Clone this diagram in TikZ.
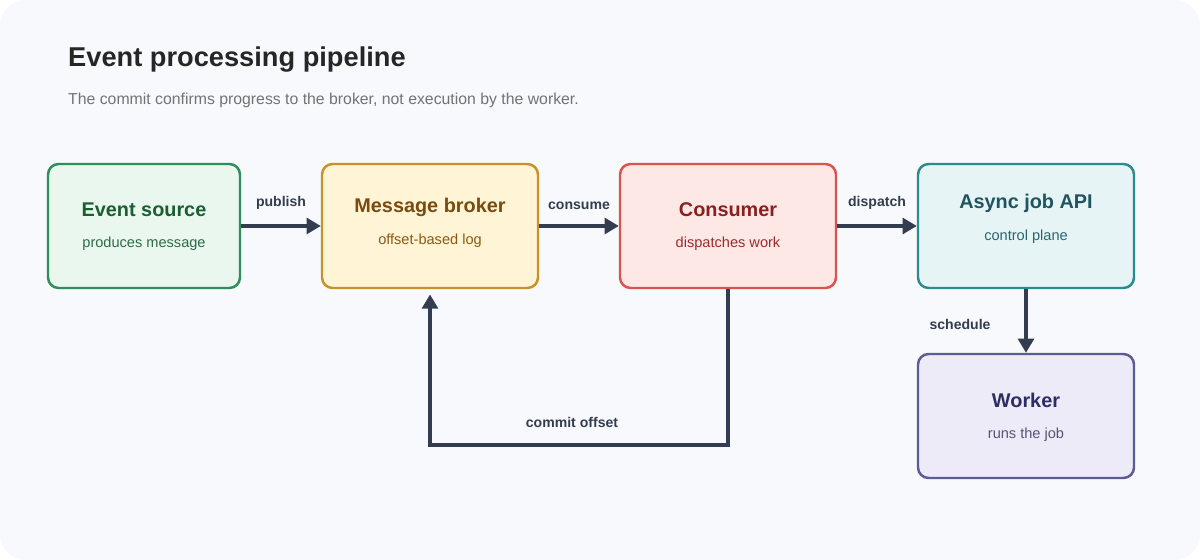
\documentclass[tikz,border=0pt]{standalone}
\usepackage{fontspec}
\setmainfont{Liberation Sans}
\usetikzlibrary{arrows.meta}
\definecolor{bg}{HTML}{F7F9FC}
\definecolor{ink}{HTML}{343D50}
\definecolor{gA}{HTML}{2F8F5B}\definecolor{gF}{HTML}{E9F7EE}\definecolor{gT}{HTML}{1B5E32}\definecolor{gS}{HTML}{2F6B45}
\definecolor{yA}{HTML}{C8922A}\definecolor{yF}{HTML}{FFF4D6}\definecolor{yT}{HTML}{7A4A0E}\definecolor{yS}{HTML}{8A5A12}
\definecolor{rA}{HTML}{D9534F}\definecolor{rF}{HTML}{FDE8E6}\definecolor{rT}{HTML}{8B1E1E}\definecolor{rS}{HTML}{9B2C2C}
\definecolor{cA}{HTML}{2A8C8C}\definecolor{cF}{HTML}{E6F4F6}\definecolor{cT}{HTML}{1E5560}\definecolor{cS}{HTML}{2A6670}
\definecolor{pA}{HTML}{5C5B94}\definecolor{pF}{HTML}{ECEBF7}\definecolor{pT}{HTML}{2E2D63}\definecolor{pS}{HTML}{55557A}
\begin{document}
\begin{tikzpicture}[x=0.02cm,y=-0.02cm,
 box/.style={draw,line width=1.4pt,rounded corners=6pt,minimum width=192*0.02cm,minimum height=124*0.02cm},
 ttl/.style={font=\fontsize{11.3}{13}\selectfont\bfseries},
 sub/.style={font=\fontsize{8.3}{10}\selectfont},
 arr/.style={draw=ink,line width=1.8pt,-{Triangle[length=8pt,width=9pt]}},
 lbl/.style={font=\fontsize{8}{10}\selectfont\bfseries,text=ink}]
\useasboundingbox (0,0) rectangle (1200,560);
\fill[bg,rounded corners=14pt] (0,0) rectangle (1200,560);
\node[anchor=west,font=\fontsize{15.5}{18}\selectfont\bfseries,text=black!85] (t) at (62,60) {Event processing pipeline};
\node[anchor=west,font=\fontsize{9}{11}\selectfont,text=black!55] (s) at (62,100) {The commit confirms progress to the broker, not execution by the worker.};
\node[box,draw=gA,fill=gF,minimum width=192*0.02cm] (es) at (144,226) {};
\node[ttl,text=gT] (es1) at (144,210) {Event source};
\node[sub,text=gS] (es2) at (144,244) {produces message};
\node[box,draw=yA,fill=yF,minimum width=216*0.02cm] (mb) at (430,226) {};
\node[ttl,text=yT] (mb1) at (430,207) {Message broker};
\node[sub,text=yS] (mb2) at (430,241) {offset-based log};
\node[box,draw=rA,fill=rF,minimum width=216*0.02cm] (co) at (728,226) {};
\node[ttl,text=rT] (co1) at (728,210) {Consumer};
\node[sub,text=rS] (co2) at (728,244) {dispatches work};
\node[box,draw=cA,fill=cF,minimum width=216*0.02cm] (aj) at (1026,226) {};
\node[ttl,text=cT] (aj1) at (1026,203) {Async job API};
\node[sub,text=cS] (aj2) at (1026,237) {control plane};
\node[box,draw=pA,fill=pF,minimum width=216*0.02cm] (wk) at (1026,416) {};
\node[ttl,text=pT] (wk1) at (1026,400) {Worker};
\node[sub,text=pS] (wk2) at (1026,435) {runs the job};
\draw[arr] (es) -- (mb) node[lbl,midway,above=5pt] {publish};
\draw[arr] (mb) -- (co) node[lbl,midway,above=5pt] {consume};
\draw[arr] (co) -- (aj) node[lbl,midway,above=5pt] {dispatch};
\draw[arr] (aj) -- (wk);
\node[lbl] (sl) at (960,324) {schedule};
\draw[arr] (co.south) -- (728,445) -- (430,445) -- ([yshift=-3pt]mb.south);
\node[lbl] (cl) at (572,422) {commit offset};
\end{tikzpicture}
\end{document}
